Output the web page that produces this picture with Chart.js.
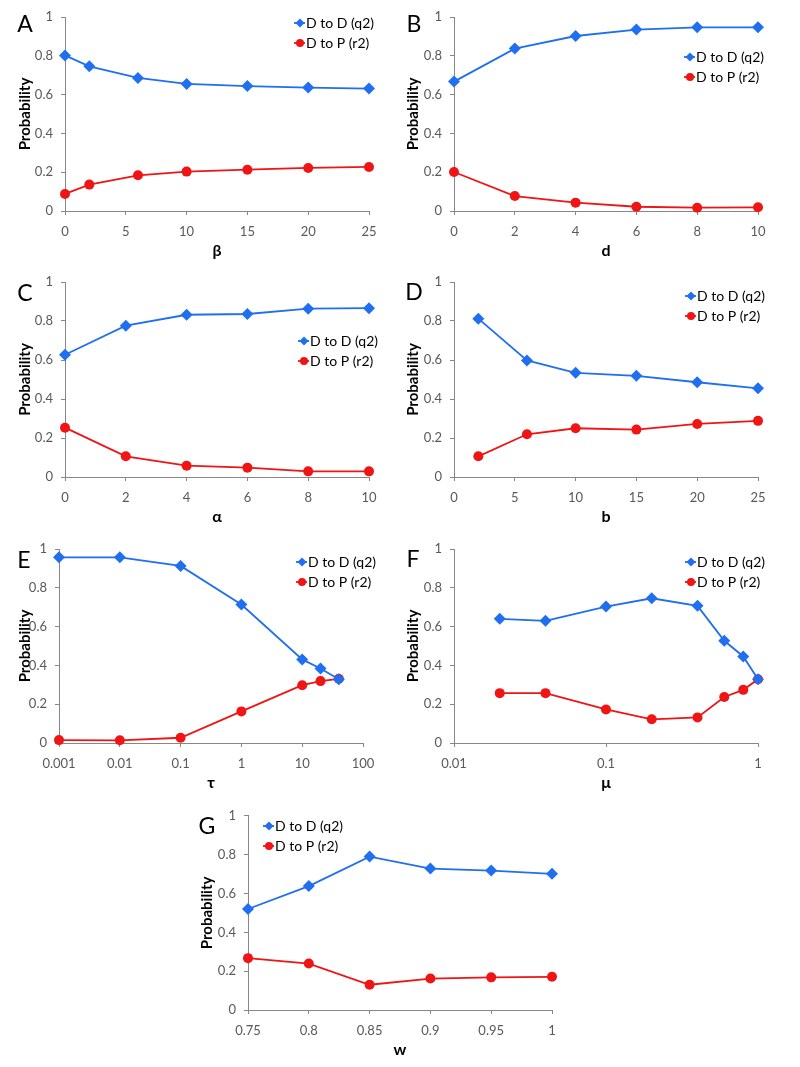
<!DOCTYPE html>
<html>
<head>
<meta charset="utf-8">
<script src="https://cdn.jsdelivr.net/npm/chart.js@4.4.0/dist/chart.umd.min.js"></script>
<style>
  body { margin: 0; background: #fff; width: 800px; height: 1067px; position: relative; overflow: hidden; }
  canvas { position: absolute; }
</style>
</head>
<body>
<canvas id="cA"></canvas>
<canvas id="cB"></canvas>
<canvas id="cC"></canvas>
<canvas id="cD"></canvas>
<canvas id="cE"></canvas>
<canvas id="cF"></canvas>
<canvas id="cG"></canvas>
<script>
// --- data ---
const probTicks = [0, 0.2, 0.4, 0.6, 0.8, 1];

const betaVals = [0, 2, 6, 10, 15, 20, 25];
const betaQ2 = [0.802, 0.746, 0.686, 0.655, 0.644, 0.636, 0.631];
const betaR2 = [0.088, 0.136, 0.184, 0.203, 0.213, 0.222, 0.227];
const betaTicks = [0, 5, 10, 15, 20, 25];

const dVals = [0, 2, 4, 6, 8, 10];
const dQ2 = [0.667, 0.837, 0.902, 0.935, 0.947, 0.947];
const dR2 = [0.201, 0.077, 0.043, 0.022, 0.017, 0.019];
const dTicks = [0, 2, 4, 6, 8, 10];

const alphaVals = [0, 2, 4, 6, 8, 10];
const alphaQ2 = [0.627, 0.776, 0.832, 0.836, 0.863, 0.866];
const alphaR2 = [0.253, 0.106, 0.058, 0.048, 0.029, 0.029];
const alphaTicks = [0, 2, 4, 6, 8, 10];

const bVals = [2, 6, 10, 15, 20, 25];
const bQ2 = [0.812, 0.598, 0.534, 0.519, 0.486, 0.455];
const bR2 = [0.106, 0.219, 0.250, 0.243, 0.272, 0.288];
const bTicks = [0, 5, 10, 15, 20, 25];

const tauVals = [0.001, 0.01, 0.1, 1, 10, 20, 40];
const tauQ2 = [0.957, 0.957, 0.913, 0.714, 0.431, 0.384, 0.329];
const tauR2 = [0.015, 0.014, 0.027, 0.163, 0.298, 0.319, 0.331];
const tauTicks = [0.001, 0.01, 0.1, 1, 10, 100];

const muVals = [0.02, 0.04, 0.1, 0.2, 0.4, 0.6, 0.8, 1];
const muQ2 = [0.640, 0.630, 0.703, 0.746, 0.707, 0.527, 0.446, 0.329];
const muR2 = [0.257, 0.257, 0.173, 0.122, 0.132, 0.237, 0.274, 0.329];
const muTicks = [0.01, 0.1, 1];

const wVals = [0.75, 0.8, 0.85, 0.9, 0.95, 1];
const wQ2 = [0.520, 0.638, 0.790, 0.728, 0.718, 0.701];
const wR2 = [0.267, 0.239, 0.130, 0.162, 0.168, 0.171];
const wTicks = [0.75, 0.8, 0.85, 0.9, 0.95, 1];

const seriesNames = ['D to D (q2)', 'D to P (r2)'];

// --- look ---
const BLUE = '#1f6ff0';
const RED = '#f01414';
const AXIS = '#878787';
const TICK_TXT = '#595959';
const FONT = 'Lato';
const X_AXIS_H = 49;
const Y_TITLE_SIZE = 15;

// panel boxes in page pixels: canvas box, plot area, y title x, letter, legend anchor
const panels = [
  { id: 'cA', letter: 'A', xTitle: 'β', vals: betaVals, q2: betaQ2, r2: betaR2, xTicks: betaTicks, log: false,
    box: [0, 0, 400, 265], area: [65, 369, 17, 211], yTitleX: 25, letterAt: [25, 25], legendAt: [300, 23] },
  { id: 'cB', letter: 'B', xTitle: 'd', vals: dVals, q2: dQ2, r2: dR2, xTicks: dTicks, log: false,
    box: [400, 0, 400, 265], area: [454, 758, 17, 211], yTitleX: 413, letterAt: [414, 25], legendAt: [690, 57] },
  { id: 'cC', letter: 'C', xTitle: 'α', vals: alphaVals, q2: alphaQ2, r2: alphaR2, xTicks: alphaTicks, log: false,
    box: [0, 265, 400, 265], area: [65, 369, 282, 477], yTitleX: 25, letterAt: [25, 294], legendAt: [304, 341] },
  { id: 'cD', letter: 'D', xTitle: 'b', vals: bVals, q2: bQ2, r2: bR2, xTicks: bTicks, log: false,
    box: [400, 265, 400, 265], area: [454, 758, 282, 477], yTitleX: 413, letterAt: [414, 293], legendAt: [691, 296] },
  { id: 'cE', letter: 'E', xTitle: 'τ', vals: tauVals, q2: tauQ2, r2: tauR2, xTicks: tauTicks, log: true,
    box: [0, 530, 400, 270], area: [59, 363, 549, 743], yTitleX: 25, letterAt: [24, 561], legendAt: [302, 562] },
  { id: 'cF', letter: 'F', xTitle: 'μ', vals: muVals, q2: muQ2, r2: muR2, xTicks: muTicks, log: true,
    box: [400, 530, 400, 270], area: [454, 758, 549, 743], yTitleX: 413, letterAt: [413, 560], legendAt: [691, 562] },
  { id: 'cG', letter: 'G', xTitle: 'w', vals: wVals, q2: wQ2, r2: wR2, xTicks: wTicks, log: false,
    box: [180, 800, 420, 267], area: [248, 552, 815, 1010], yTitleX: 207, letterAt: [207, 827], legendAt: [269, 826] }
];

// panel letter and Excel-like legend (short line with marker)
const panelDeco = {
  id: 'panelDeco',
  afterDraw(chart, args, opts) {
    const ctx = chart.ctx;
    ctx.save();
    ctx.fillStyle = '#000';
    ctx.font = '23px ' + FONT;
    ctx.textAlign = 'center';
    ctx.textBaseline = 'middle';
    ctx.fillText(opts.letter, opts.letterX, opts.letterY);

    ctx.font = '14px ' + FONT;
    ctx.textAlign = 'left';
    chart.data.datasets.forEach((ds, i) => {
      const x = opts.legendX, y = opts.legendY + i * 20;
      ctx.strokeStyle = ds.borderColor;
      ctx.lineWidth = 1.8;
      ctx.beginPath();
      ctx.moveTo(x - 6, y);
      ctx.lineTo(x + 5, y);
      ctx.stroke();
      ctx.fillStyle = ds.backgroundColor;
      Chart.helpers.drawPoint(ctx, { pointStyle: ds.pointStyle, radius: ds.pointStyle === 'rectRot' ? 4.5 : 4, borderWidth: 0 }, x, y);
      ctx.fillStyle = '#000';
      ctx.fillText(ds.label, x + 6, y + 0.5);
    });
    ctx.restore();
  }
};

function fixedTicks(list) {
  return function (scale) {
    scale.ticks = list.map(v => ({ value: v }));
  };
}

function makeChart(p) {
  const [cl, ct, cw, ch] = p.box;
  const [al, ar, at, ab] = p.area;
  const canvas = document.getElementById(p.id);
  canvas.width = cw;
  canvas.height = ch;
  canvas.style.left = cl + 'px';
  canvas.style.top = ct + 'px';

  const yTitleOffset = Y_TITLE_SIZE * 1.2 / 2;
  const yW = al - (p.yTitleX - yTitleOffset);
  const pad = {
    left: al - cl - yW,
    right: cl + cw - ar,
    top: at - ct,
    bottom: ct + ch - ab - X_AXIS_H
  };

  const tickFont = { family: FONT, size: 13 };

  return new Chart(canvas.getContext('2d'), {
    type: 'scatter',
    data: {
      datasets: [
        {
          label: seriesNames[0],
          data: p.vals.map((x, i) => ({ x: x, y: p.q2[i] })),
          showLine: true,
          borderColor: BLUE,
          backgroundColor: BLUE,
          borderWidth: 1.8,
          pointStyle: 'rectRot',
          pointRadius: 6,
          pointBorderWidth: 0,
          pointBackgroundColor: BLUE,
          clip: false
        },
        {
          label: seriesNames[1],
          data: p.vals.map((x, i) => ({ x: x, y: p.r2[i] })),
          showLine: true,
          borderColor: RED,
          backgroundColor: RED,
          borderWidth: 1.8,
          pointStyle: 'circle',
          pointRadius: 5,
          pointBorderWidth: 0,
          pointBackgroundColor: RED,
          clip: false
        }
      ]
    },
    options: {
      responsive: false,
      animation: false,
      layout: { padding: pad },
      plugins: {
        legend: { display: false },
        tooltip: { enabled: false },
        panelDeco: {
          letter: p.letter,
          letterX: p.letterAt[0] - cl,
          letterY: p.letterAt[1] - ct,
          legendX: p.legendAt[0] - cl,
          legendY: p.legendAt[1] - ct
        }
      },
      scales: {
        x: {
          type: p.log ? 'logarithmic' : 'linear',
          min: p.xTicks[0],
          max: p.xTicks[p.xTicks.length - 1],
          afterBuildTicks: fixedTicks(p.xTicks),
          afterFit: s => { s.height = X_AXIS_H; },
          ticks: {
            callback: v => String(v),
            color: TICK_TXT,
            font: tickFont,
            padding: 9,
            maxRotation: 0,
            autoSkip: false
          },
          grid: { drawOnChartArea: false, drawTicks: true, tickLength: 4, color: AXIS },
          border: { color: AXIS, width: 1 },
          title: {
            display: true,
            text: p.xTitle,
            color: '#000',
            font: { family: FONT, size: 16, weight: 'bold' },
            padding: { top: 0, bottom: 0 }
          }
        },
        y: {
          min: 0,
          max: 1,
          afterBuildTicks: fixedTicks(probTicks),
          afterFit: s => { s.width = yW; },
          ticks: {
            callback: v => String(v),
            color: TICK_TXT,
            font: tickFont,
            padding: 8
          },
          grid: { drawOnChartArea: false, drawTicks: true, tickLength: 4, color: AXIS },
          border: { color: AXIS, width: 1 },
          title: {
            display: true,
            text: 'Probability',
            color: '#000',
            font: { family: FONT, size: Y_TITLE_SIZE, weight: 'bold' },
            padding: { top: 0, bottom: 0 }
          }
        }
      }
    },
    plugins: [panelDeco]
  });
}

panels.forEach(makeChart);
</script>
</body>
</html>
